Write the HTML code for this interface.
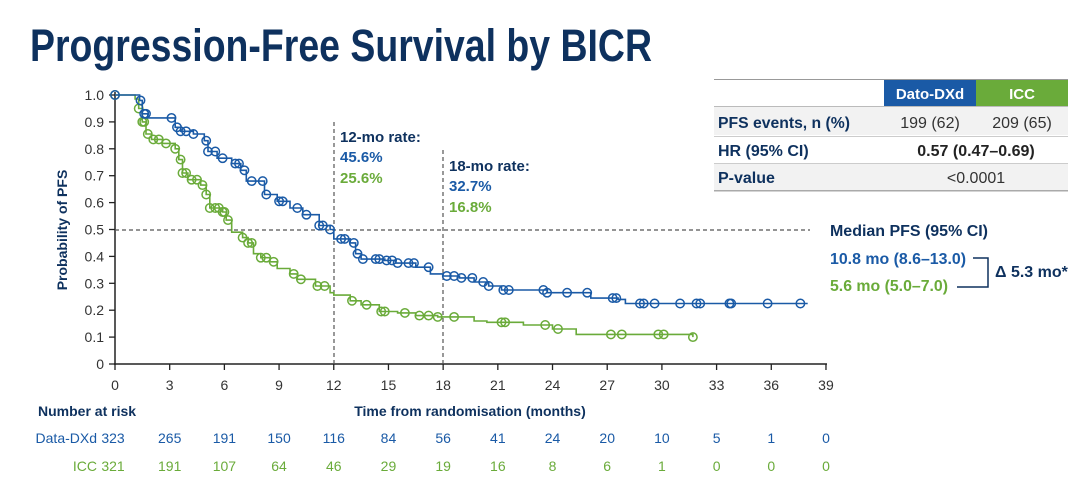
<!DOCTYPE html>
<html><head><meta charset="utf-8"><style>
html,body{margin:0;padding:0;background:#fff;}
svg{display:block;font-family:"Liberation Sans",Arial,sans-serif;}
</style></head><body>
<svg id="s" width="1080" height="480" viewBox="0 0 1080 480" xmlns="http://www.w3.org/2000/svg">
<text x="30" y="61" font-size="45" font-weight="bold" fill="#0e315e" textLength="622" lengthAdjust="spacingAndGlyphs">Progression-Free Survival by BICR</text>

<!-- table -->
<rect x="714" y="79" width="354" height="1" fill="#999"/>
<rect x="884" y="80" width="92" height="26" fill="#1a5aa6"/>
<rect x="976" y="80" width="92" height="26" fill="#6aab3a"/>
<text x="930" y="99" font-size="15" font-weight="bold" fill="#fff" text-anchor="middle">Dato-DXd</text>
<text x="1022" y="99" font-size="15" font-weight="bold" fill="#fff" text-anchor="middle">ICC</text>
<rect x="714" y="107" width="354" height="28" fill="#f2f2f2"/>
<rect x="714" y="137" width="354" height="26" fill="#fff"/>
<rect x="714" y="164" width="354" height="26" fill="#f2f2f2"/>
<rect x="714" y="106" width="354" height="1" fill="#bbb"/>
<rect x="714" y="136" width="354" height="1" fill="#ccc"/>
<rect x="714" y="163" width="354" height="1" fill="#ccc"/>
<rect x="714" y="190" width="354" height="1.5" fill="#aaa"/>
<text x="718" y="128" font-size="16" font-weight="bold" fill="#0e315e" textLength="132" lengthAdjust="spacingAndGlyphs">PFS events, n (%)</text>
<text x="930" y="128" font-size="16" fill="#333" text-anchor="middle">199 (62)</text>
<text x="1022" y="128" font-size="16" fill="#333" text-anchor="middle">209 (65)</text>
<text x="718" y="156" font-size="16" font-weight="bold" fill="#0e315e">HR (95% CI)</text>
<text x="976" y="156" font-size="16" font-weight="bold" fill="#222" text-anchor="middle">0.57 (0.47–0.69)</text>
<text x="718" y="183" font-size="16" font-weight="bold" fill="#0e315e">P-value</text>
<text x="976" y="183" font-size="16" fill="#333" text-anchor="middle">&lt;0.0001</text>

<!-- median -->
<text x="830" y="236" font-size="16" font-weight="bold" fill="#0e315e" textLength="158" lengthAdjust="spacingAndGlyphs">Median PFS (95% CI)</text>
<text x="830" y="264" font-size="16" font-weight="bold" fill="#1a5aa6" textLength="136" lengthAdjust="spacingAndGlyphs">10.8 mo (8.6–13.0)</text>
<text x="830" y="291" font-size="16" font-weight="bold" fill="#6aab3a" textLength="118" lengthAdjust="spacingAndGlyphs">5.6 mo (5.0–7.0)</text>
<polyline points="973,258 988,258 988,287 957,287" fill="none" stroke="#0e315e" stroke-width="1.5"/>
<text x="995" y="277" font-size="16" font-weight="bold" fill="#0e315e">Δ 5.3 mo*</text>

<!-- axes -->
<g stroke="#222" stroke-width="1.5">
<line x1="115" y1="92" x2="115" y2="365"/>
<line x1="114" y1="364" x2="827" y2="364"/>
</g>
<g id="ticks"></g>
<text transform="translate(67,230) rotate(-90)" font-size="14" font-weight="bold" fill="#0e315e" text-anchor="middle">Probability of PFS</text>
<text x="470" y="416" font-size="14" font-weight="bold" fill="#0e315e" text-anchor="middle">Time from randomisation (months)</text>
<text x="38" y="416" font-size="14" font-weight="bold" fill="#0e315e">Number at risk</text>
<text x="97" y="443" font-size="14" fill="#1a5aa6" text-anchor="end">Data-DXd</text>
<text x="97" y="471" font-size="14" fill="#6aab3a" text-anchor="end">ICC</text>

<line x1="115" y1="230" x2="810" y2="230" stroke="#555" stroke-width="1.2" stroke-dasharray="4,3"/>
<line x1="334" y1="122" x2="334" y2="364" stroke="#555" stroke-width="1.2" stroke-dasharray="4,3"/>
<line x1="443" y1="150" x2="443" y2="364" stroke="#555" stroke-width="1.2" stroke-dasharray="4,3"/>
<text x="340" y="142" font-size="15" font-weight="bold" fill="#0e315e">12-mo rate:</text>
<text x="340" y="162" font-size="15" font-weight="bold" fill="#1a5aa6">45.6%</text>
<text x="340" y="183" font-size="15" font-weight="bold" fill="#6aab3a">25.6%</text>
<text x="449" y="171" font-size="15" font-weight="bold" fill="#0e315e">18-mo rate:</text>
<text x="449" y="191" font-size="15" font-weight="bold" fill="#1a5aa6">32.7%</text>
<text x="449" y="212" font-size="15" font-weight="bold" fill="#6aab3a">16.8%</text>
<g id="curves"></g>
<g id="risk"></g>
</svg>
<script>
var NS="http://www.w3.org/2000/svg";
function X(m){return 115+m*18.23;} function Y(p){return 364-p*269;}
function el(t,a,p,txt){var e=document.createElementNS(NS,t);for(var k in a)e.setAttribute(k,a[k]);if(txt!==undefined)e.textContent=txt;p.appendChild(e);return e;}
var tk=document.getElementById('ticks');
for(var i=0;i<=10;i++){var y=Y(i/10);el('line',{x1:109,y1:y,x2:115,y2:y,stroke:'#222','stroke-width':1.3},tk);
el('text',{x:104,y:y+5,'font-size':14,fill:'#333','text-anchor':'end'},tk,i==0?'0':i==10?'1.0':(i/10).toFixed(1));}
for(var m=0;m<=39;m+=3){var x=X(m);el('line',{x1:x,y1:364,x2:x,y2:370,stroke:'#222','stroke-width':1.3},tk);
el('text',{x:x,y:390,'font-size':14,fill:'#333','text-anchor':'middle'},tk,''+m);}
var rk=document.getElementById('risk');
var b=[323,265,191,150,116,84,56,41,24,20,10,5,1,0],g=[321,191,107,64,46,29,19,16,8,6,1,0,0,0];
for(var i=0;i<14;i++){var x=i==0?113:X(i*3);
el('text',{x:x,y:443,'font-size':14,fill:'#1a5aa6','text-anchor':'middle'},rk,''+b[i]);
el('text',{x:x,y:471,'font-size':14,fill:'#6aab3a','text-anchor':'middle'},rk,''+g[i]);}
var blue=[[0,1],[1.35,.98],[1.5,.93],[1.8,.915],[3.3,.88],[3.6,.865],[4.3,.855],[4.9,.83],[5.1,.79],[5.6,.765],[6.4,.745],[6.9,.72],[7.2,.68],[8.2,.63],[8.9,.605],[9.6,.58],[10.3,.555],[11.2,.515],[11.8,.50],[12,.465],[12.9,.45],[13.2,.41],[13.5,.39],[14.8,.385],[15.4,.375],[16.5,.36],[17.3,.335],[18,.327],[18.9,.32],[19.7,.305],[20.5,.29],[21.2,.275],[22.5,.275],[23.7,.265],[25.6,.265],[26.1,.245],[27.6,.24],[28,.225],[38,.225]];
var green=[[0,1],[1.1,.985],[1.3,.95],[1.5,.90],[1.7,.855],[2,.835],[2.6,.82],[3.3,.80],[3.5,.76],[3.7,.71],[4,.685],[4.7,.665],[5,.63],[5.2,.58],[5.9,.565],[6.1,.535],[6.4,.49],[7,.47],[7.3,.45],[7.6,.41],[8,.395],[8.5,.38],[8.9,.355],[9.6,.335],[10,.315],[11,.29],[11.8,.265],[12,.256],[12.9,.235],[13.5,.22],[14.5,.195],[15.5,.19],[16.5,.18],[17.7,.175],[19.7,.16],[20.4,.155],[22.4,.145],[24,.13],[25.3,.11],[31.7,.10]];
var blueC=[0,1.4,1.6,1.7,3.1,3.4,3.6,3.9,4.3,5,5.1,5.5,5.9,6.6,6.8,7.1,7.5,8.1,8.3,9,9.2,10,10.5,11.2,11.4,11.8,12.4,12.6,13.1,13.3,13.6,14.3,14.5,14.9,15.2,15.5,16.1,16.4,17.2,18.2,18.6,19,19.6,20.2,20.5,21.3,21.6,23.5,23.7,24.8,25.9,27.3,27.5,28.8,29,29.6,31,31.9,32.1,33.7,33.8,35.8,37.6];
var greenC=[0,1.3,1.5,1.6,1.8,2.1,2.4,2.8,3.3,3.6,3.7,3.9,4.2,4.5,4.8,5,5.2,5.5,5.7,5.9,6,6.2,7,7.3,7.5,8,8.3,8.7,9.8,10.2,11.1,11.5,13,13.8,14.6,14.8,15.9,16.7,17.2,17.7,18.6,21.2,21.4,23.6,24.3,27.2,27.8,29.8,30.1,31.7];
function S(c,t){var v=c[0][1];for(var i=0;i<c.length;i++){if(c[i][0]<=t)v=c[i][1];else break;}return v;}
function draw(c,cs,col){var g=document.getElementById('curves');var d='M'+X(0)+','+Y(1);
for(var i=1;i<c.length;i++){d+='H'+X(c[i][0]).toFixed(1)+'V'+Y(c[i][1]).toFixed(1);}
el('path',{d:d,fill:'none',stroke:col,'stroke-width':1.6},g);
cs.forEach(function(t){el('circle',{cx:X(t).toFixed(1),cy:Y(S(c,t)).toFixed(1),r:4.2,fill:'none',stroke:col,'stroke-width':1.5},g);});}
draw(green,greenC,'#6aab3a');draw(blue,blueC,'#1a5aa6');
</script>
</body></html>
